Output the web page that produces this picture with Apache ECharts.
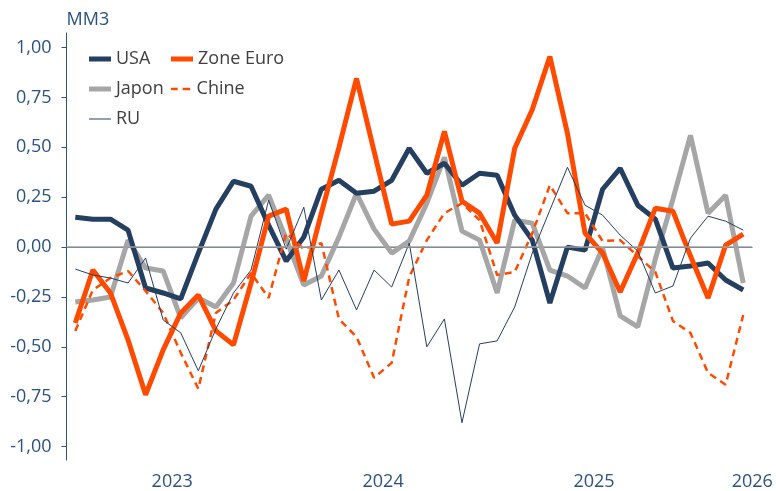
<!DOCTYPE html>
<html>
<head>
<meta charset="utf-8">
<script src="https://cdn.jsdelivr.net/npm/echarts@6/dist/echarts.min.js"></script>
<style>
  html, body { margin: 0; padding: 0; background: #fff; }
  #chart { width: 776px; height: 491px; }
</style>
</head>
<body>
<div id="chart"></div>
<script>
'use strict';

// mois de janv. 2023 a mars 2026
const months = [
    '2023-01', '2023-02', '2023-03', '2023-04', '2023-05', '2023-06',
    '2023-07', '2023-08', '2023-09', '2023-10', '2023-11', '2023-12',
    '2024-01', '2024-02', '2024-03', '2024-04', '2024-05', '2024-06',
    '2024-07', '2024-08', '2024-09', '2024-10', '2024-11', '2024-12',
    '2025-01', '2025-02', '2025-03', '2025-04', '2025-05', '2025-06',
    '2025-07', '2025-08', '2025-09', '2025-10', '2025-11', '2025-12',
    '2026-01', '2026-02', '2026-03'
];
const yearLabelIndex = [5, 17, 29, 38];
const yTicks = [-1, -0.75, -0.5, -0.25, 0, 0.25, 0.5, 0.75, 1];

const usa = [0.15, 0.14, 0.14, 0.085, -0.205, -0.23, -0.26, -0.03, 0.19, 0.33,
    0.305, 0.11, -0.07, 0.05, 0.29, 0.335, 0.27, 0.28, 0.335, 0.495,
    0.37, 0.42, 0.31, 0.37, 0.36, 0.16, 0.035, -0.28, 0.0, -0.015,
    0.29, 0.395, 0.21, 0.14, -0.105, -0.095, -0.08, -0.165, -0.215];
const zoneEuro = [-0.38, -0.115, -0.23, -0.465, -0.74, -0.515, -0.33, -0.24, -0.42, -0.49,
    -0.18, 0.155, 0.19, -0.17, 0.17, 0.5, 0.845, 0.48, 0.115, 0.13,
    0.26, 0.58, 0.23, 0.17, 0.02, 0.495, 0.69, 0.955, 0.57, 0.07,
    -0.03, -0.225, -0.03, 0.195, 0.18, -0.045, -0.255, 0.01, 0.065];
const japon = [-0.275, -0.265, -0.25, 0.035, -0.105, -0.12, -0.355, -0.255, -0.30, -0.18,
    0.155, 0.26, 0.04, -0.19, -0.145, 0.05, 0.27, 0.09, -0.03, 0.03,
    0.22, 0.45, 0.08, 0.035, -0.23, 0.135, 0.12, -0.115, -0.145, -0.205,
    -0.005, -0.345, -0.40, -0.06, 0.24, 0.56, 0.17, 0.26, -0.18];
const chine = [-0.42, -0.215, -0.155, -0.12, -0.22, -0.33, -0.53, -0.71, -0.33, -0.265,
    -0.13, -0.255, 0.07, -0.01, 0.02, -0.36, -0.45, -0.655, -0.58, -0.15,
    0.035, 0.17, 0.22, 0.135, -0.14, -0.125, 0.07, 0.31, 0.17, 0.17,
    0.03, 0.035, -0.045, -0.125, -0.37, -0.43, -0.63, -0.69, -0.34];
const ru = [-0.11, -0.14, -0.155, -0.18, -0.055, -0.365, -0.43, -0.62, -0.41, -0.23,
    -0.115, 0.235, -0.01, 0.20, -0.265, -0.115, -0.315, -0.115, -0.2, 0.02,
    -0.5, -0.36, -0.88, -0.485, -0.47, -0.3, -0.03, 0.185, 0.40, 0.21,
    0.16, 0.06, -0.02, -0.23, -0.195, 0.045, 0.155, 0.13, 0.085];

const NAVY = '#243f60';
const ORANGE = '#ff4a00';
const GREY = '#a6a6a6';
const AXIS = '#2b5283';
const FONT = '"Open Sans", sans-serif';

// une legende par entree, pour placer les deux colonnes comme l'original
function legendItem(name, icon, height, left, top) {
    return {
        data: [{ name: name, icon: icon }],
        left: left,
        top: top,
        itemWidth: 22,
        itemHeight: height,
        itemGap: 0,
        textStyle: { color: '#404040', fontSize: 18, fontFamily: FONT }
    };
}

function fmt(v) {
    return v.toFixed(2).replace('.', ',');
}

const option = {
    animation: false,
    backgroundColor: '#ffffff',
    textStyle: { fontFamily: FONT },
    grid: { left: 66.5, right: 24, top: 33, bottom: 31, containLabel: false },
    legend: [
        legendItem('USA', 'rect', 5, 84, 45),
        legendItem('Zone Euro', 'rect', 5, 166, 45),
        legendItem('Japon', 'rect', 5, 84, 75),
        legendItem('Chine', 'path://M0,0h8v3h-8z M14,0h9v3h-9z', 2.5, 166, 75),
        legendItem('RU', 'rect', 1, 84, 105)
    ],
    xAxis: {
        type: 'category',
        data: months,
        boundaryGap: true,
        axisLine: { lineStyle: { color: AXIS, width: 1 } },
        axisTick: {
            interval: function (index) { return index % 12 === 0; },
            length: 6,
            lineStyle: { color: '#777777' }
        },
        axisLabel: {
            interval: function (index) { return yearLabelIndex.indexOf(index) >= 0; },
            formatter: function (value) { return value.slice(0, 4); },
            color: AXIS,
            fontSize: 18,
            fontFamily: FONT,
            margin: 13,
            padding: [0, 0, 0, 18]
        },
        splitLine: { show: false }
    },
    yAxis: {
        type: 'value',
        min: -1.067,
        max: 1.073,
        name: 'MM3',
        nameLocation: 'end',
        nameGap: 4,
        nameTextStyle: { color: AXIS, fontSize: 18, fontFamily: FONT, align: 'left' },
        axisLine: { show: true, lineStyle: { color: AXIS, width: 1 } },
        axisTick: { show: true, length: 5, customValues: yTicks, lineStyle: { color: AXIS } },
        axisLabel: {
            customValues: yTicks,
            formatter: fmt,
            color: AXIS,
            fontSize: 18,
            fontFamily: FONT,
            margin: 15
        },
        splitLine: { show: false }
    },
    series: [
        {
            name: 'Japon',
            type: 'line',
            data: japon,
            symbol: 'none',
            color: GREY,
            lineStyle: { color: GREY, width: 5 },
            markLine: {
                silent: true,
                symbol: 'none',
                label: { show: false },
                lineStyle: { color: '#a0a0a0', width: 1.5, type: 'solid' },
                data: [{ yAxis: 0 }]
            }
        },
        {
            name: 'USA',
            type: 'line',
            data: usa,
            symbol: 'none',
            color: NAVY,
            lineStyle: { color: NAVY, width: 5 }
        },
        {
            name: 'Zone Euro',
            type: 'line',
            data: zoneEuro,
            symbol: 'none',
            color: ORANGE,
            lineStyle: { color: ORANGE, width: 5 }
        },
        {
            name: 'Chine',
            type: 'line',
            data: chine,
            symbol: 'none',
            color: ORANGE,
            lineStyle: { color: ORANGE, width: 2.5, type: [7, 5] }
        },
        {
            name: 'RU',
            type: 'line',
            data: ru,
            symbol: 'none',
            color: NAVY,
            lineStyle: { color: NAVY, width: 1 }
        }
    ]
};

const chartDom = document.getElementById('chart');
const myChart = echarts.init(chartDom);
myChart.setOption(option);
window.addEventListener('resize', function () {
    myChart.resize();
});
</script>
</body>
</html>
